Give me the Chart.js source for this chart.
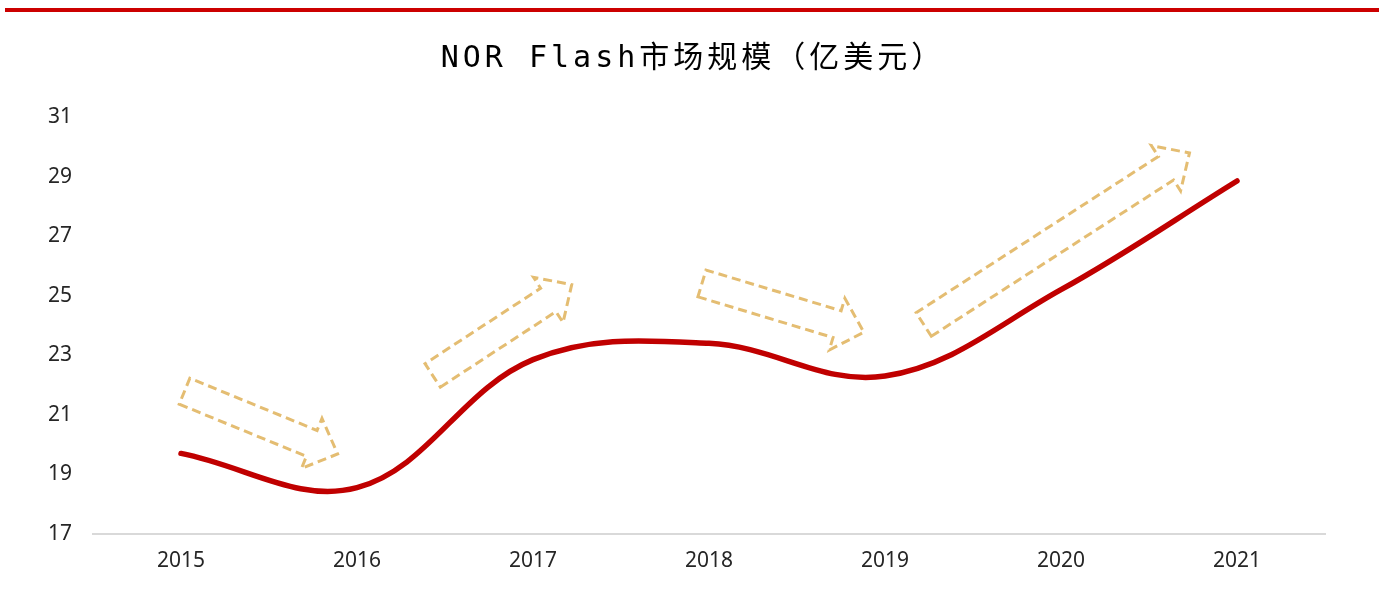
<!DOCTYPE html>
<html><head><meta charset="utf-8">
<script src="https://cdn.jsdelivr.net/npm/chart.js@4.4.1/dist/chart.umd.min.js"></script>
<style>
html,body{margin:0;padding:0;background:#fff;}
#bar{position:absolute;left:5px;top:8px;width:1374px;height:4px;background:#cc0000;}
#wrap{position:absolute;left:0;top:0;width:1364px;height:597px;}
</style></head><body>
<div id="bar"></div>
<div id="wrap"><canvas id="c"></canvas></div>
<script>
const titleText = 'NOR Flash市场规模（亿美元）';
const years = ['2015','2016','2017','2018','2019','2020','2021'];
const marketSize = [19.7, 18.55, 22.85, 23.4, 22.3, 25.2, 28.85];
const yTicks = [17, 19, 21, 23, 25, 27, 29, 31];
// trend arrows (category index, value)
const trendArrowFrom = [[0.02, 21.79], [1.43, 22.32], [2.96, 25.41], [4.22, 24.03]];
const trendArrowTo   = [[0.89, 19.68], [2.22, 25.37], [3.88, 23.77], [5.73, 29.79]];

const arrowPlugin = {
  id: 'trendArrows',
  beforeDatasetsDraw(chart) {
    const ctx = chart.ctx, xs = chart.scales.x, ys = chart.scales.y;
    const sw = 14, hw = 27, hl = 28;
    ctx.save();
    ctx.strokeStyle = '#e4bd72';
    ctx.lineWidth = 3;
    ctx.setLineDash([9, 5]);
    ctx.lineJoin = 'miter';
    trendArrowFrom.forEach((f, i) => {
      const t = trendArrowTo[i];
      const x0 = xs.getPixelForValue(f[0]), y0 = ys.getPixelForValue(f[1]);
      const x1 = xs.getPixelForValue(t[0]), y1 = ys.getPixelForValue(t[1]);
      const len = Math.hypot(x1 - x0, y1 - y0);
      const ux = (x1 - x0) / len, uy = (y1 - y0) / len;
      const nx = -uy, ny = ux;
      const bx = x1 - hl * ux, by = y1 - hl * uy;
      ctx.beginPath();
      ctx.moveTo(x0 + sw * nx, y0 + sw * ny);
      ctx.lineTo(bx + sw * nx, by + sw * ny);
      ctx.lineTo(bx + hw * nx, by + hw * ny);
      ctx.lineTo(x1, y1);
      ctx.lineTo(bx - hw * nx, by - hw * ny);
      ctx.lineTo(bx - sw * nx, by - sw * ny);
      ctx.lineTo(x0 - sw * nx, y0 - sw * ny);
      ctx.closePath();
      ctx.stroke();
    });
    ctx.restore();
  }
};

const titleSpacingPlugin = {
  id: 'titleSpacing',
  afterInit(chart) {
    const tb = chart.titleBlock;
    if (!tb) return;
    const orig = tb.draw;
    tb.draw = function () {
      const c = this.ctx;
      c.save();
      c.translate(9, 0);
      c.letterSpacing = '4px';
      orig.apply(this, arguments);
      c.restore();
    };
  }
};

const tickFont = { family: "'Noto Sans', sans-serif", size: 21 };

new Chart(document.getElementById('c'), {
  type: 'line',
  data: {
    labels: years,
    datasets: [{
      data: marketSize,
      borderColor: '#c00000',
      borderWidth: 5.5,
      pointRadius: 0,
      tension: 0.37,
      fill: false,
      borderCapStyle: 'round',
      borderJoinStyle: 'round'
    }]
  },
  plugins: [arrowPlugin, titleSpacingPlugin],
  options: {
    responsive: true,
    maintainAspectRatio: false,
    animation: false,
    layout: { padding: { left: 43, right: 39, top: 0, bottom: 8 } },
    plugins: {
      legend: { display: false },
      tooltip: { enabled: false },
      title: {
        display: true,
        text: titleText,
        color: '#000000',
        font: { family: "'DejaVu Sans Mono', 'Noto Sans CJK SC'", size: 30, weight: 'normal' },
        padding: { top: 41, bottom: 40 }
      }
    },
    scales: {
      x: {
        offset: true,
        grid: { display: false, drawTicks: false },
        border: { display: true, color: '#d9d9d9', width: 2 },
        ticks: { color: '#262626', padding: 15, font: tickFont }
      },
      y: {
        min: 17,
        max: 31,
        afterBuildTicks: (s) => { s.ticks = yTicks.map(v => ({ value: v })); },
        afterFit: (s) => { s.width = 50; },
        grid: { display: false, drawTicks: false },
        border: { display: false },
        ticks: { color: '#262626', padding: 21, font: tickFont }
      }
    }
  }
});
</script>
</body></html>
